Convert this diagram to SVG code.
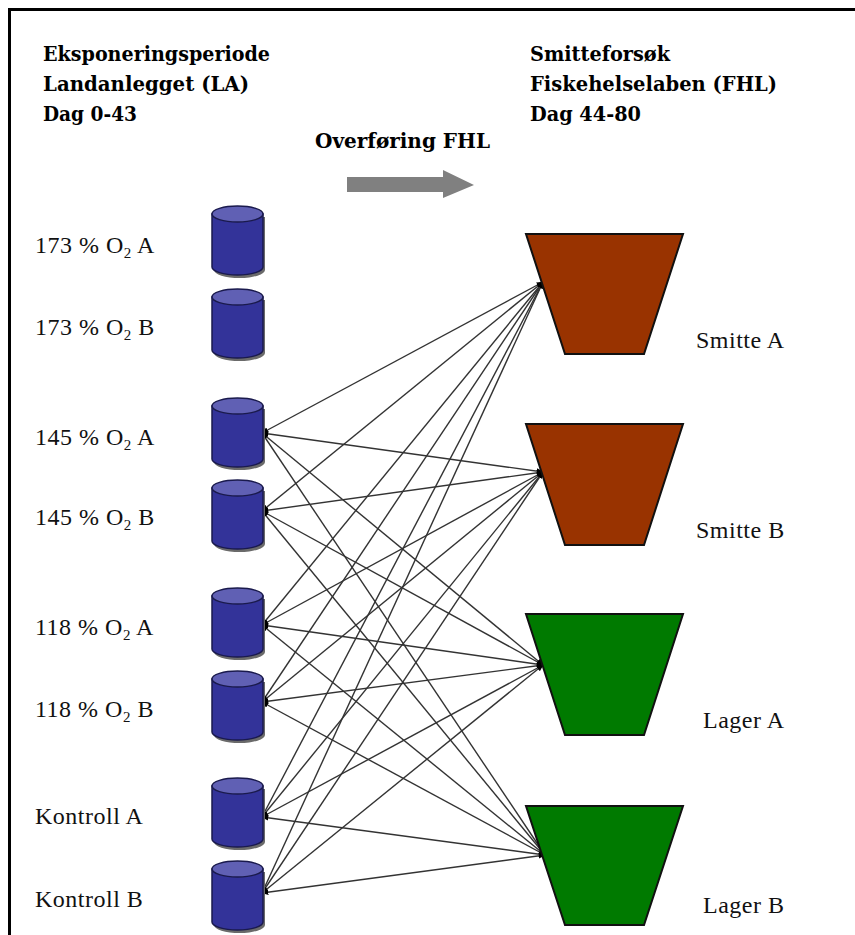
<svg xmlns="http://www.w3.org/2000/svg" xmlns:xlink="http://www.w3.org/1999/xlink" width="855" height="935" viewBox="0 0 855 935">
<style>
  .hdr { font-family: "DejaVu Serif", "Liberation Serif", serif; font-weight: bold; font-size: 21px; fill: #000; }
  .lbl { font-family: "Liberation Serif", "Times New Roman", serif; font-size: 24px; letter-spacing: 0.5px; fill: #111; }
  .sub { font-size: 15px; }
  .conn { stroke: #333; stroke-width: 1.4; fill: none; marker-start: url(#ah); marker-end: url(#ah); }
  .smitte { fill: #993300; stroke: #111; stroke-width: 2; }
  .lager { fill: #007a00; stroke: #111; stroke-width: 2; }
</style>
<defs>
  <marker id="ah" viewBox="0 0 10 10" refX="9" refY="5" markerWidth="7" markerHeight="7" markerUnits="userSpaceOnUse" orient="auto-start-reverse">
    <path d="M0,1 L10,5 L0,9 Z" fill="#000"/>
  </marker>
  <g id="cyl">
    <path d="M2,12 L2,65 A25.5,8 0 0 0 53,65 L53,12 Z" fill="#6a6a6a"/>
    <path d="M0,9 L0,62 A25.5,8 0 0 0 51,62 L51,9 Z" fill="#333399" stroke="#1a1a4d" stroke-width="1.5"/>
    <ellipse cx="25.5" cy="9" rx="25.5" ry="8" fill="#6060b4" stroke="#1a1a4d" stroke-width="1.5"/>
  </g>
</defs>
<rect width="855" height="935" fill="#fff"/>
<!-- frame -->
<path d="M9.5,935 L9.5,9.5 L855,9.5" fill="none" stroke="#000" stroke-width="3"/>

<!-- headers -->
<g id="header-left">
  <text class="hdr" x="43" y="61" textLength="227" lengthAdjust="spacingAndGlyphs">Eksponeringsperiode</text>
  <text class="hdr" x="43" y="91" textLength="206" lengthAdjust="spacingAndGlyphs">Landanlegget (LA)</text>
  <text class="hdr" x="43" y="121" textLength="94" lengthAdjust="spacingAndGlyphs">Dag 0-43</text>
</g>
<g id="header-right">
  <text class="hdr" x="530" y="61" textLength="140" lengthAdjust="spacingAndGlyphs">Smitteforsøk</text>
  <text class="hdr" x="530" y="91" textLength="247" lengthAdjust="spacingAndGlyphs">Fiskehelselaben (FHL)</text>
  <text class="hdr" x="530" y="121" textLength="111" lengthAdjust="spacingAndGlyphs">Dag 44-80</text>
</g>
<g id="transfer">
  <text class="hdr" x="315" y="148" textLength="175" lengthAdjust="spacingAndGlyphs">Overføring FHL</text>
  <path d="M347,177 L443,177 L443,170 L474,185 L443,198 L443,192 L347,192 Z" fill="#808080"/>
</g>

<!-- connectors -->
<g id="connectors">
  <line class="conn" x1="262" y1="433" x2="543" y2="282"/>
  <line class="conn" x1="262" y1="433" x2="543" y2="472"/>
  <line class="conn" x1="262" y1="433" x2="543" y2="665"/>
  <line class="conn" x1="262" y1="433" x2="545" y2="855"/>
  <line class="conn" x1="262" y1="511" x2="543" y2="282"/>
  <line class="conn" x1="262" y1="511" x2="543" y2="472"/>
  <line class="conn" x1="262" y1="511" x2="543" y2="665"/>
  <line class="conn" x1="262" y1="511" x2="545" y2="855"/>
  <line class="conn" x1="262" y1="625" x2="543" y2="282"/>
  <line class="conn" x1="262" y1="625" x2="543" y2="472"/>
  <line class="conn" x1="262" y1="625" x2="543" y2="665"/>
  <line class="conn" x1="262" y1="625" x2="545" y2="855"/>
  <line class="conn" x1="262" y1="702" x2="543" y2="282"/>
  <line class="conn" x1="262" y1="702" x2="543" y2="472"/>
  <line class="conn" x1="262" y1="702" x2="543" y2="665"/>
  <line class="conn" x1="262" y1="702" x2="545" y2="855"/>
  <line class="conn" x1="262" y1="817" x2="543" y2="282"/>
  <line class="conn" x1="262" y1="817" x2="543" y2="472"/>
  <line class="conn" x1="262" y1="817" x2="543" y2="665"/>
  <line class="conn" x1="262" y1="817" x2="545" y2="855"/>
  <line class="conn" x1="262" y1="893" x2="543" y2="282"/>
  <line class="conn" x1="262" y1="893" x2="543" y2="472"/>
  <line class="conn" x1="262" y1="893" x2="543" y2="665"/>
  <line class="conn" x1="262" y1="893" x2="545" y2="855"/>
</g>

<!-- tanks (cylinders) -->
<g id="o2-173-a">
  <use xlink:href="#cyl" href="#cyl" x="212" y="205"/>
  <text class="lbl" x="35" y="253">173 % O<tspan class="sub" dy="5">2</tspan><tspan dy="-5"> A</tspan></text>
</g>
<g id="o2-173-b">
  <use xlink:href="#cyl" href="#cyl" x="212" y="288"/>
  <text class="lbl" x="35" y="335">173 % O<tspan class="sub" dy="5">2</tspan><tspan dy="-5"> B</tspan></text>
</g>
<g id="o2-145-a">
  <use xlink:href="#cyl" href="#cyl" x="212" y="397"/>
  <text class="lbl" x="35" y="445">145 % O<tspan class="sub" dy="5">2</tspan><tspan dy="-5"> A</tspan></text>
</g>
<g id="o2-145-b">
  <use xlink:href="#cyl" href="#cyl" x="212" y="479"/>
  <text class="lbl" x="35" y="525">145 % O<tspan class="sub" dy="5">2</tspan><tspan dy="-5"> B</tspan></text>
</g>
<g id="o2-118-a">
  <use xlink:href="#cyl" href="#cyl" x="212" y="587"/>
  <text class="lbl" x="35" y="635">118 % O<tspan class="sub" dy="5">2</tspan><tspan dy="-5"> A</tspan></text>
</g>
<g id="o2-118-b">
  <use xlink:href="#cyl" href="#cyl" x="212" y="670"/>
  <text class="lbl" x="35" y="717">118 % O<tspan class="sub" dy="5">2</tspan><tspan dy="-5"> B</tspan></text>
</g>
<g id="kontroll-a">
  <use xlink:href="#cyl" href="#cyl" x="212" y="777"/>
  <text class="lbl" x="35" y="824">Kontroll A</text>
</g>
<g id="kontroll-b">
  <use xlink:href="#cyl" href="#cyl" x="212" y="860"/>
  <text class="lbl" x="35" y="907">Kontroll B</text>
</g>

<!-- FHL tanks (trapezoids) -->
<g id="smitte-a">
  <polygon class="smitte" points="526,234 683,234 644,354 565,354"/>
  <text class="lbl" x="696" y="348">Smitte A</text>
</g>
<g id="smitte-b">
  <polygon class="smitte" points="526,424 683,424 644,545 565,545"/>
  <text class="lbl" x="696" y="538">Smitte B</text>
</g>
<g id="lager-a">
  <polygon class="lager" points="526,614 683,614 644,735 565,735"/>
  <text class="lbl" x="703" y="728">Lager A</text>
</g>
<g id="lager-b">
  <polygon class="lager" points="526,806 683,806 644,925 565,925"/>
  <text class="lbl" x="703" y="913">Lager B</text>
</g>
</svg>
